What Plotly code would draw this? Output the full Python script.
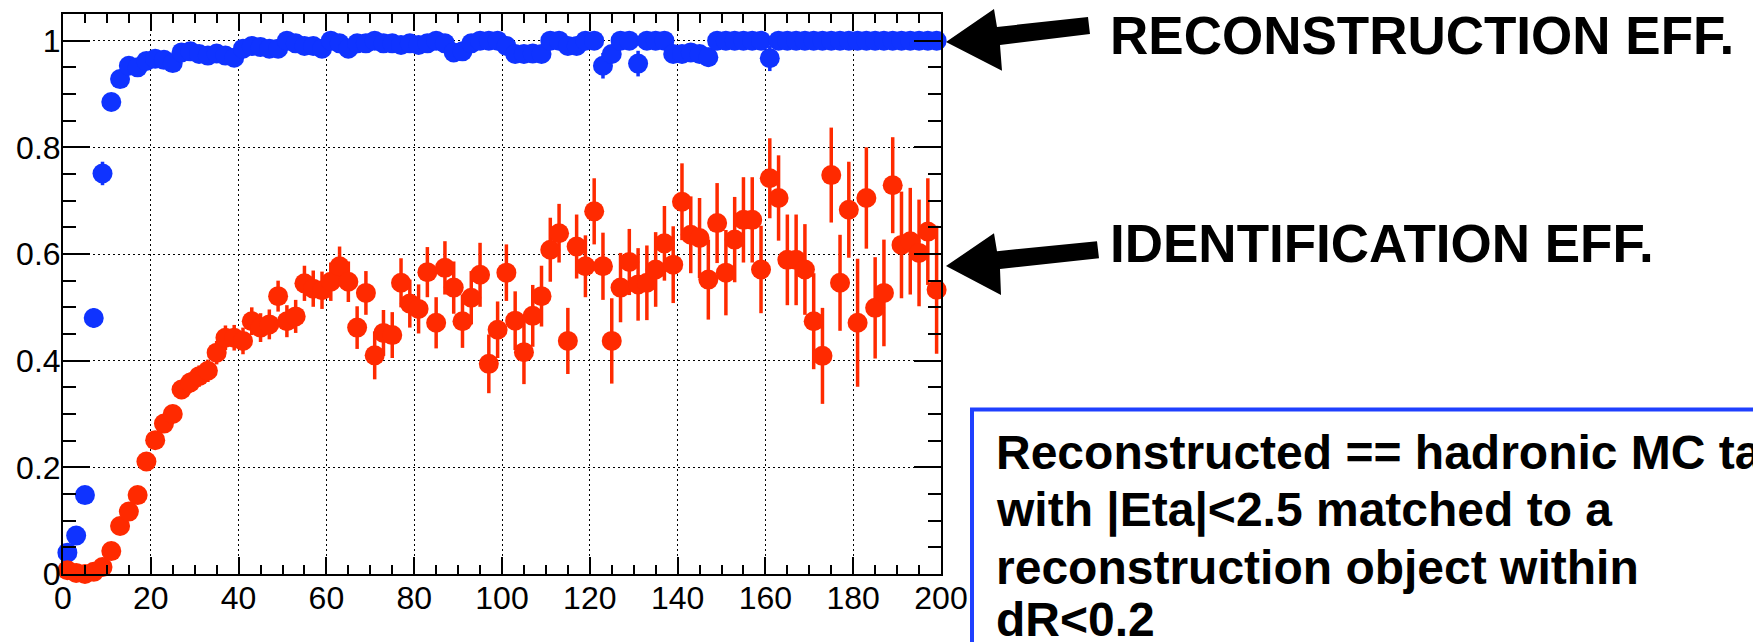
import plotly.graph_objects as go

# ---------------- data ----------------
BIN_CENTERS = list(range(1, 200, 2))  # 100 bins of width 2

RECO_EFF = [
    0.040, 0.072, 0.148, 0.480, 0.751, 0.885, 0.928, 0.953, 0.950, 0.962,
    0.966, 0.964, 0.958, 0.978, 0.980, 0.975, 0.972, 0.976, 0.972, 0.968,
    0.985, 0.990, 0.988, 0.985, 0.985, 1.000, 0.995, 0.990, 0.990, 0.985,
    1.000, 0.995, 0.985, 0.995, 0.995, 1.000, 0.995, 0.995, 0.992, 0.995,
    0.992, 0.995, 1.000, 0.995, 0.978, 0.980, 0.995, 1.000, 1.000, 1.000,
    0.990, 0.975, 0.975, 0.976, 0.975, 1.000, 1.000, 0.990, 0.990, 1.000,
    1.000, 0.953, 0.975, 1.000, 1.000, 0.957, 1.000, 1.000, 1.000, 0.975,
    0.975, 0.978, 0.975, 0.969, 1.000, 1.000, 1.000, 1.000, 1.000, 1.000,
    0.967, 1.000, 1.000, 1.000, 1.000, 1.000, 1.000, 1.000, 1.000, 1.000,
    1.000, 1.000, 1.000, 1.000, 1.000, 1.000, 1.000, 1.000, 1.000, 1.000,
]
RECO_ERR = [
    0.012, 0.014, 0.016, 0.018, 0.022, 0.012, 0.010, 0.008, 0.008, 0.007,
    0.006, 0.006, 0.007, 0.005, 0.005, 0.006, 0.006, 0.006, 0.007, 0.008,
    0.006, 0.005, 0.006, 0.006, 0.006, 0.003, 0.005, 0.006, 0.006, 0.008,
    0.003, 0.005, 0.008, 0.005, 0.005, 0.003, 0.005, 0.005, 0.006, 0.005,
    0.006, 0.005, 0.003, 0.005, 0.012, 0.012, 0.005, 0.003, 0.003, 0.003,
    0.008, 0.014, 0.014, 0.014, 0.014, 0.003, 0.003, 0.009, 0.009, 0.003,
    0.003, 0.024, 0.015, 0.003, 0.003, 0.024, 0.003, 0.003, 0.003, 0.015,
    0.015, 0.014, 0.015, 0.018, 0.003, 0.003, 0.003, 0.003, 0.003, 0.003,
    0.024, 0.003, 0.003, 0.003, 0.003, 0.003, 0.003, 0.003, 0.003, 0.003,
    0.003, 0.003, 0.003, 0.003, 0.003, 0.003, 0.003, 0.003, 0.003, 0.003,
]

ID_EFF = [
    0.007, 0.002, 0.000, 0.004, 0.013, 0.043, 0.090, 0.117, 0.148, 0.211,
    0.251, 0.282, 0.300, 0.346, 0.359, 0.371, 0.381, 0.415, 0.443, 0.443,
    0.437, 0.474, 0.462, 0.468, 0.521, 0.474, 0.483, 0.545, 0.535, 0.532,
    0.548, 0.577, 0.548, 0.462, 0.527, 0.410, 0.452, 0.448, 0.546, 0.507,
    0.497, 0.566, 0.471, 0.574, 0.537, 0.474, 0.518, 0.561, 0.394, 0.458,
    0.565, 0.475, 0.416, 0.484, 0.521, 0.608, 0.639, 0.437, 0.614, 0.577,
    0.680, 0.577, 0.437, 0.537, 0.585, 0.543, 0.546, 0.571, 0.620, 0.580,
    0.698, 0.636, 0.630, 0.552, 0.658, 0.565, 0.627, 0.664, 0.664, 0.571,
    0.742, 0.705, 0.589, 0.589, 0.571, 0.474, 0.409, 0.748, 0.546, 0.683,
    0.471, 0.705, 0.499, 0.527, 0.729, 0.617, 0.624, 0.602, 0.642, 0.533,
]
ID_ERR = [
    0.004, 0.003, 0.003, 0.004, 0.005, 0.008, 0.010, 0.011, 0.012, 0.014,
    0.015, 0.016, 0.017, 0.018, 0.019, 0.020, 0.021, 0.022, 0.023, 0.024,
    0.025, 0.026, 0.027, 0.028, 0.029, 0.030, 0.031, 0.033, 0.034, 0.035,
    0.036, 0.037, 0.038, 0.040, 0.041, 0.045, 0.043, 0.043, 0.046, 0.045,
    0.046, 0.047, 0.048, 0.050, 0.049, 0.050, 0.050, 0.060, 0.055, 0.053,
    0.053, 0.055, 0.060, 0.058, 0.057, 0.060, 0.055, 0.062, 0.060, 0.058,
    0.062, 0.063, 0.080, 0.065, 0.062, 0.068, 0.070, 0.070, 0.070, 0.072,
    0.072, 0.072, 0.075, 0.075, 0.075, 0.080, 0.080, 0.080, 0.080, 0.082,
    0.075, 0.080, 0.085, 0.085, 0.085, 0.090, 0.090, 0.089, 0.090, 0.090,
    0.120, 0.095, 0.095, 0.100, 0.090, 0.100, 0.100, 0.100, 0.100, 0.120,
]

X_TICKS = [0, 20, 40, 60, 80, 100, 120, 140, 160, 180, 200]
Y_TICKS = [0, 0.2, 0.4, 0.6, 0.8, 1.0]

LABEL_RECO = "RECONSTRUCTION EFF."
LABEL_ID = "IDENTIFICATION EFF."
BOX_LINES = [
    "Reconstructed == hadronic MC tau",
    "with |Eta|<2.5 matched to a",
    "reconstruction object within",
    "dR<0.2",
]

# ---------------- layout geometry (pixels) ----------------
W, H = 1753, 642
ML, MR, MT, MB = 63, 812, 12, 68
PW = W - ML - MR
PH = H - MT - MB


def px2x(px):
    return (px - ML) / PW


def py2y(py):
    return (H - MB - py) / PH


BLUE = "#0f33ff"
RED = "#ff2a00"
FONT = "Liberation Sans, Arial, Helvetica, sans-serif"

fig = go.Figure()

fig.add_trace(go.Scatter(
    x=BIN_CENTERS, y=RECO_EFF, mode="markers", cliponaxis=False,
    marker=dict(color=BLUE, size=20, symbol="circle", line=dict(width=0)),
    error_y=dict(type="data", array=RECO_ERR, color=BLUE, thickness=3.5, width=0),
    showlegend=False, hoverinfo="skip",
))
fig.add_trace(go.Scatter(
    x=BIN_CENTERS, y=ID_EFF, mode="markers", cliponaxis=False,
    marker=dict(color=RED, size=20, symbol="circle", line=dict(width=0)),
    error_y=dict(type="data", array=ID_ERR, color=RED, thickness=3.5, width=0),
    showlegend=False, hoverinfo="skip",
))


def arrow_path(pts):
    coords = [f"{px2x(a):.5f},{py2y(b):.5f}" for a, b in pts]
    return "M " + " L ".join(coords) + " Z"


arrow1 = [(946, 40), (994, 7), (997, 25), (1088, 15), (1090, 32), (1000, 43), (1002, 69)]
arrow2 = [(946, 265), (994, 232), (997, 250), (1097, 240), (1099, 257), (1000, 268), (1001, 294)]

shapes = [
    dict(type="path", xref="paper", yref="paper", path=arrow_path(arrow1),
         fillcolor="black", line=dict(width=0), layer="above"),
    dict(type="path", xref="paper", yref="paper", path=arrow_path(arrow2),
         fillcolor="black", line=dict(width=0), layer="above"),
    dict(type="rect", xref="paper", yref="paper",
         x0=px2x(972), x1=px2x(1775), y0=py2y(409), y1=py2y(680),
         line=dict(color="#1f40ff", width=4), fillcolor="rgba(0,0,0,0)", layer="above"),
]

annotations = [
    dict(text=LABEL_RECO, xref="paper", yref="paper", x=px2x(1108), y=py2y(34),
         xanchor="left", yanchor="middle", showarrow=False,
         font=dict(family=FONT, size=53, color="black", weight="bold")),
    dict(text=LABEL_ID, xref="paper", yref="paper", x=px2x(1108), y=py2y(242),
         xanchor="left", yanchor="middle", showarrow=False,
         font=dict(family=FONT, size=53, color="black", weight="bold")),
]
line_centers = [452, 510, 567, 620]
for txt, cy in zip(BOX_LINES, line_centers):
    annotations.append(dict(
        text=txt, xref="paper", yref="paper", x=px2x(994), y=py2y(cy),
        xanchor="left", yanchor="middle", align="left", showarrow=False,
        font=dict(family=FONT, size=48, color="black", weight="bold")))

axis_common = dict(
    showline=True, linecolor="black", linewidth=2, mirror="ticks",
    ticks="inside", tickwidth=2, tickcolor="black",
    showgrid=True, gridcolor="black", gridwidth=1.3, griddash="2px,3px",
    zeroline=False,
    tickfont=dict(family=FONT, size=32, color="black"),
)

fig.update_layout(
    width=W, height=H,
    margin=dict(l=ML, r=MR, t=MT, b=MB, pad=0),
    paper_bgcolor="white", plot_bgcolor="white",
    xaxis=dict(range=[0, 200], tickvals=X_TICKS, ticklen=17, ticklabelstandoff=-5,
               minor=dict(dtick=5, tick0=0, ticklen=9, tickwidth=2, ticks="inside",
                          tickcolor="black", showgrid=False),
               **axis_common),
    yaxis=dict(range=[0, 1.05], tickvals=Y_TICKS, ticklen=27, ticklabelstandoff=-6,
               minor=dict(dtick=0.05, tick0=0, ticklen=13, tickwidth=2, ticks="inside",
                          tickcolor="black", showgrid=False),
               **axis_common),
    shapes=shapes,
    annotations=annotations,
)

fig.write_html("out.html")
